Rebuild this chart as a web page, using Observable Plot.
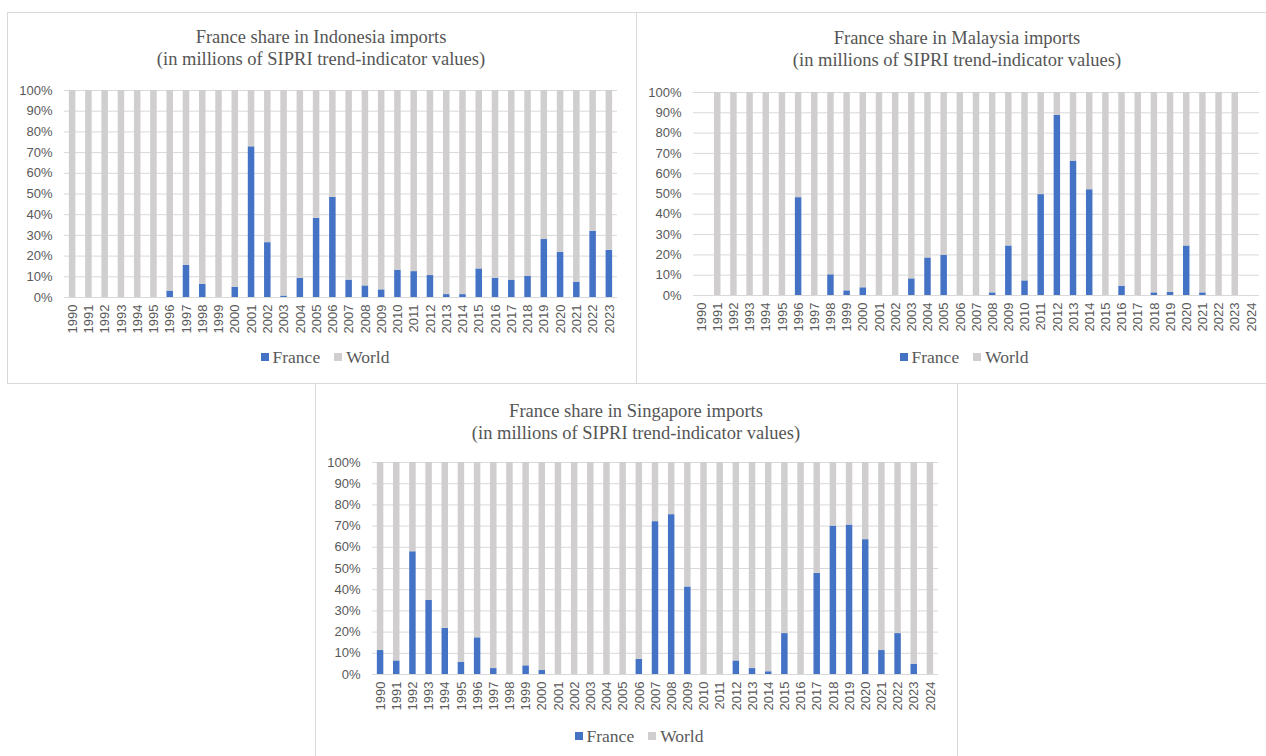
<!DOCTYPE html>
<html>
<head>
<meta charset="utf-8">
<script src="https://cdn.jsdelivr.net/npm/d3@7"></script>
<script src="https://cdn.jsdelivr.net/npm/@observablehq/plot@0.6"></script>
<style>
  html, body { margin: 0; padding: 0; background: #fff; }
  #root { position: relative; width: 1266px; height: 756px; overflow: hidden; background: #fff; }
  .box { position: absolute; border: 1px solid #d9d9d9; box-sizing: border-box; }
  .title { position: absolute; text-align: center; font-family: "Liberation Serif", "Times New Roman", serif;
           font-size: 18.5px; line-height: 22px; color: #555555; white-space: nowrap; }
  .legend { position: absolute; display: flex; align-items: center; justify-content: center;
            font-family: "Liberation Serif", "Times New Roman", serif; font-size: 17.5px; color: #595959; white-space: nowrap; }
  .legend .sw { display: inline-block; width: 8px; height: 8px; margin-right: 4px; }
  .legend .item { display: inline-flex; align-items: center; margin: 0 7px; }
  .chart { position: absolute; }
</style>
</head>
<body>
<div id="root"></div>
<script>
// ---------- DATA ----------
const seriesNames = ["France", "World"];
const seriesColors = ["#4472c4", "#d0cece"];
const yTicks = [0, 10, 20, 30, 40, 50, 60, 70, 80, 90, 100];

const yearsIDN = [1990, 1991, 1992, 1993, 1994, 1995, 1996, 1997, 1998, 1999, 2000, 2001, 2002, 2003, 2004, 2005, 2006,
  2007, 2008, 2009, 2010, 2011, 2012, 2013, 2014, 2015, 2016, 2017, 2018, 2019, 2020, 2021, 2022, 2023];
const franceIDN = [0, 0, 0, 0, 0, 0, 3.1, 15.6, 6.4, 0, 5.0, 72.8, 26.5, 0.7, 9.3, 38.3, 48.4,
  8.4, 5.6, 3.7, 13.2, 12.5, 10.6, 1.4, 1.4, 13.8, 9.3, 8.4, 10.3, 28.0, 21.9, 7.4, 32.0, 22.8];
const worldIDN = [100, 100, 100, 100, 100, 100, 96.9, 84.4, 93.6, 100, 95.0, 27.2, 73.5, 99.3, 90.7, 61.7, 51.6,
  91.6, 94.4, 96.3, 86.8, 87.5, 89.4, 98.6, 98.6, 86.2, 90.7, 91.6, 89.7, 72.0, 78.1, 92.6, 68.0, 77.2];

const yearsMYS = [1990, 1991, 1992, 1993, 1994, 1995, 1996, 1997, 1998, 1999, 2000, 2001, 2002, 2003, 2004, 2005, 2006,
  2007, 2008, 2009, 2010, 2011, 2012, 2013, 2014, 2015, 2016, 2017, 2018, 2019, 2020, 2021, 2022, 2023, 2024];
const franceMYS = [null, 0, 0, 0, 0, 0, 48.2, 0, 10.2, 2.3, 3.8, 0, 0, 8.2, 18.5, 19.8, 0,
  0, 1.3, 24.4, 7.2, 49.7, 88.7, 66.2, 52.1, 0, 4.6, 0, 1.3, 1.6, 24.4, 1.3, 0, 0, null];
const worldMYS = [null, 100, 100, 100, 100, 100, 51.8, 100, 89.8, 97.7, 96.2, 100, 100, 91.8, 81.5, 80.2, 100,
  100, 98.7, 75.6, 92.8, 50.3, 11.3, 33.8, 47.9, 100, 95.4, 100, 98.7, 98.4, 75.6, 98.7, 100, 100, null];

const yearsSGP = [1990, 1991, 1992, 1993, 1994, 1995, 1996, 1997, 1998, 1999, 2000, 2001, 2002, 2003, 2004, 2005, 2006,
  2007, 2008, 2009, 2010, 2011, 2012, 2013, 2014, 2015, 2016, 2017, 2018, 2019, 2020, 2021, 2022, 2023, 2024];
const franceSGP = [11.3, 6.4, 57.9, 34.9, 21.8, 5.8, 17.3, 2.8, 0, 4.1, 1.9, 0, 0, 0, 0, 0, 7.1,
  72.1, 75.4, 41.3, 0, 0, 6.4, 2.8, 1.3, 19.3, 0, 47.7, 70.0, 70.5, 63.6, 11.3, 19.3, 4.9, 0];
const worldSGP = [88.7, 93.6, 42.1, 65.1, 78.2, 94.2, 82.7, 97.2, 100, 95.9, 98.1, 100, 100, 100, 100, 100, 92.9,
  27.9, 24.6, 58.7, 100, 100, 93.6, 97.2, 98.7, 80.7, 100, 52.3, 30.0, 29.5, 36.4, 88.7, 80.7, 95.1, 100];

const titleIDN = ["France share in Indonesia imports", "(in millions of SIPRI trend-indicator values)"];
const titleMYS = ["France share in Malaysia imports", "(in millions of SIPRI trend-indicator values)"];
const titleSGP = ["France share in Singapore imports", "(in millions of SIPRI trend-indicator values)"];

// ---------- LAYOUT ----------
const root = document.getElementById("root");

function addBox(l, t, w, h) {
  const d = document.createElement("div");
  d.className = "box";
  Object.assign(d.style, { left: l + "px", top: t + "px", width: w + "px", height: h + "px" });
  root.appendChild(d);
}

function addTitle(lines, cx, top) {
  const d = document.createElement("div");
  d.className = "title";
  Object.assign(d.style, { left: (cx - 300) + "px", top: top + "px", width: "600px" });
  d.innerHTML = lines.map(s => `<div>${s}</div>`).join("");
  root.appendChild(d);
}

function addLegend(cx, cy) {
  const d = document.createElement("div");
  d.className = "legend";
  Object.assign(d.style, { left: (cx - 200) + "px", top: (cy - 12) + "px", width: "400px", height: "24px" });
  d.innerHTML = seriesNames.map((s, i) =>
    `<span class="item"><span class="sw" style="background:${seriesColors[i]}"></span>${s}</span>`).join("");
  root.appendChild(d);
}

function addChart(years, france, world, pos) {
  const rows = [];
  years.forEach((yr, i) => {
    if (france[i] != null) rows.push({ year: yr, series: "France", value: france[i] });
    if (world[i] != null) rows.push({ year: yr, series: "World", value: world[i] });
  });
  const svg = Plot.plot({
    width: pos.width,
    height: pos.height,
    marginLeft: pos.ml,
    marginRight: pos.mr,
    marginTop: pos.mt,
    marginBottom: pos.mb,
    style: { background: "transparent", color: "#595959", fontFamily: "'Liberation Sans', Arial, sans-serif", fontSize: "13px", overflow: "visible" },
    x: { domain: years, round: false, paddingInner: 0.6, paddingOuter: 0.3, label: null, tickRotate: -90, tickSize: 0, tickPadding: 7, tickFormat: d => String(d) },
    y: { domain: [0, 100], label: null, ticks: yTicks, tickFormat: d => d + "%", tickSize: 0, tickPadding: 12 },
    color: { domain: seriesNames, range: seriesColors },
    marks: [
      Plot.ruleY(yTicks, { stroke: "#d9d9d9", strokeWidth: 1 }),
      Plot.barY(rows, Plot.stackY({ x: "year", y: "value", fill: "series", order: seriesNames }))
    ]
  });
  svg.classList.add("chart");
  svg.style.left = pos.left + "px";
  svg.style.top = pos.top + "px";
  root.appendChild(svg);
}

// borders
addBox(7, 12, 630, 372);
addBox(636, 12, 640, 372);
addBox(315, 383, 643, 380);

// Indonesia
addTitle(titleIDN, 321, 26);
addChart(yearsIDN, franceIDN, worldIDN, { left: 7, top: 80, width: 628, height: 260, ml: 57, mr: 18, mt: 10, mb: 43 });
addLegend(325, 357);

// Malaysia
addTitle(titleMYS, 957, 27);
addChart(yearsMYS, franceMYS, worldMYS, { left: 636, top: 80, width: 630, height: 260, ml: 57, mr: 7, mt: 12, mb: 45 });
addLegend(964, 357);

// Singapore
addTitle(titleSGP, 636, 400);
addChart(yearsSGP, franceSGP, worldSGP, { left: 315, top: 450, width: 642, height: 270, ml: 57, mr: 19, mt: 12, mb: 46 });
addLegend(639, 736);
</script>
</body>
</html>
